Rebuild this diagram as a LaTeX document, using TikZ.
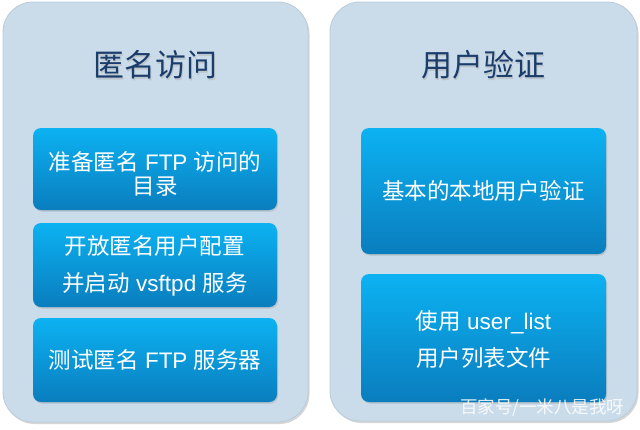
\documentclass[tikz,border=0pt]{standalone}
\usepackage{fontspec}
\setmainfont{Liberation Sans}
\newfontfamily\cjk{Noto Sans CJK SC}
\usetikzlibrary{shadows,fadings}
\definecolor{panelfill}{HTML}{CADCEA}
\definecolor{paneledge}{HTML}{B9CCDB}
\definecolor{boxtop}{HTML}{0CB2F2}
\definecolor{boxbot}{HTML}{0A7DBE}
\definecolor{titlecol}{HTML}{1B3D6C}
\tikzset{
  panel/.style={draw=paneledge, line width=0.8pt, fill=panelfill, rounded corners=30pt,
    drop shadow={shadow xshift=1.5pt, shadow yshift=-2pt, opacity=0.35, fill=black!45}},
  stepbox/.style={rounded corners=8pt, top color=boxtop, bottom color=boxbot, draw=none,
    drop shadow={shadow xshift=1pt, shadow yshift=-1.5pt, opacity=0.3}},
  paneltitle/.style={font=\cjk\fontsize{31}{36}\selectfont, text=titlecol, anchor=center},
  boxtext/.style={text=white, align=center, font=\fontsize{22.5}{37}\selectfont, anchor=center},
}
\begin{document}
\begin{tikzpicture}[x=1pt, y=-1pt]
  \useasboundingbox (0,0) rectangle (640,429);
  \fill[white] (0,0) rectangle (640,429);

  % the two panels
  \path[panel] (3,2) rectangle (308,422) coordinate (lp);
  \path[panel] (330,2) rectangle (637,421) coordinate (rp);

  % titles (with a faint shadow)
  \node[paneltitle, text=black!30, opacity=0.5] at (156.5,66.5) {匿名访问};
  \node[paneltitle] (ltitle) at (155,65) {匿名访问};
  \node[paneltitle, text=black!30, opacity=0.5] at (484.5,66.5) {用户验证};
  \node[paneltitle] (rtitle) at (483,65) {用户验证};

  % left panel steps
  \path[stepbox] (33,128) rectangle (277,210);
  \node[boxtext] (l1) at (155,174) {{\cjk 准备匿名} FTP {\cjk 访问的}\\[-13pt]{\cjk 目录}};
  \path[stepbox] (33,223) rectangle (277,307);
  \node[boxtext] (l2) at (155,266) {{\cjk 开放匿名用户配置}\\{\cjk 并启动} vsftpd {\cjk 服务}};
  \path[stepbox] (33,318) rectangle (277,402);
  \node[boxtext] (l3) at (155,360) {{\cjk 测试匿名} FTP {\cjk 服务器}};

  % right panel steps
  \path[stepbox] (361,128) rectangle (606,254);
  \node[boxtext] (r1) at (483.5,191) {{\cjk 基本的本地用户验证}};
  \path[stepbox] (361,274) rectangle (606,402);
  \node[boxtext] (r2) at (483.5,339) {{\cjk 使用} user\_list\\{\cjk 用户列表文件}};

  % watermark
  \node[text=white, opacity=0.85, font=\cjk\fontsize{17.5}{20}\selectfont, anchor=east] (wm) at (628,408) {百家号/一米八是我呀};
\end{tikzpicture}
\end{document}
